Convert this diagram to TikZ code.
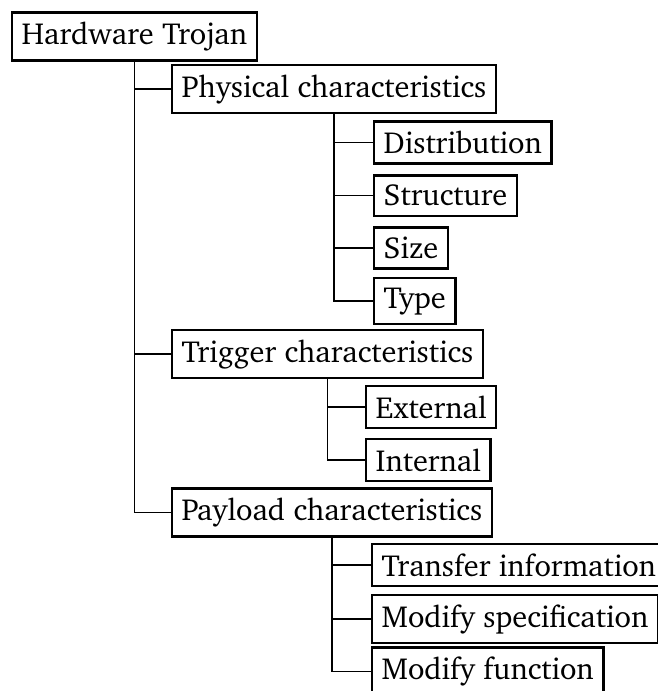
\documentclass[tikz,border=0pt]{standalone}
\usepackage[T1]{fontenc}
\usepackage{charter}
\begin{document}
\begin{tikzpicture}[x=0.345pt,y=-0.345pt,
  box/.style={draw,line width=0.8pt,anchor=west,inner sep=3.3pt,font=\fontsize{10.5}{12.6}\selectfont},
  link/.style={line width=0.45pt}]
\useasboundingbox (0,0) rectangle (658,691);
% root and first level
\node[box] (root) at (11,36.5) {Hardware Trojan};
\node[box] (phys) at (171,89) {Physical characteristics};
\node[box] (trig) at (171,354) {Trigger characteristics};
\node[box] (pay)  at (171,512.5) {Payload characteristics};
% physical characteristics
\node[box] (dist) at (373,142.5) {Distribution};
\node[box] (struc) at (373,195.5) {Structure};
\node[box] (size) at (373,248) {Size};
\node[box] (type) at (373,301) {Type};
% trigger characteristics
\node[box] (ext) at (365,407) {External};
\node[box] (int) at (365,460) {Internal};
% payload characteristics
\node[box] (trans) at (371,565) {Transfer information};
\node[box] (mspec) at (371,619) {Modify specification};
\node[box] (mfun)  at (371,671.5) {Modify function};
% folder-style connectors
\foreach \p/\c in {root/phys,root/trig,root/pay,
                   phys/dist,phys/struc,phys/size,phys/type,
                   trig/ext,trig/int,
                   pay/trans,pay/mspec,pay/mfun}
  \draw[link] (\p.south) |- (\c.west);
\end{tikzpicture}
\end{document}
